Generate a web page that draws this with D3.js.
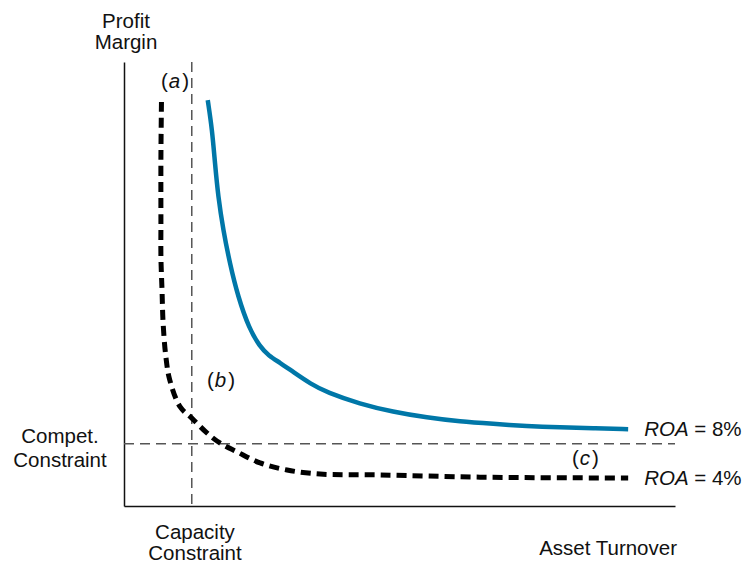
<!DOCTYPE html>
<html>
<head>
<meta charset="utf-8">
<script src="https://cdn.jsdelivr.net/npm/d3@7"></script>
<style>
  body { margin: 0; background: #fff; }
  text { font-family: "Liberation Sans", Arial, sans-serif; font-size: 20.5px; fill: #111; }
</style>
</head>
<body>
<svg id="chart" width="746" height="563"></svg>
<script>
// ROA iso-curves, values (axis units 0..100)
const roa8 = [
  [15.2, 91.4], [16.0, 84.7], [16.5, 77.3], [17.1, 69.6], [18.0, 62.2],
  [19.2, 54.7], [20.7, 47.1], [22.7, 40.0], [24.6, 36.0], [26.3, 33.8],
  [28.3, 32.3], [30.7, 30.2], [33.9, 27.5], [36.8, 25.6], [42.8, 23.0],
  [48.8, 21.2], [55.0, 19.9], [61.0, 19.0], [67.0, 18.5], [73.1, 18.0],
  [79.1, 17.7], [85.1, 17.5], [91.5, 17.3]
];
const roa4 = [
  [6.8, 91.0], [6.7, 78.6], [6.7, 63.7], [6.7, 56.1], [6.9, 48.6],
  [7.1, 41.2], [7.6, 33.6], [8.3, 28.4], [10.2, 22.3], [12.3, 19.8],
  [15.1, 16.4], [17.4, 14.2], [20.5, 12.2], [24.7, 9.7], [29.6, 8.1],
  [35.6, 7.2], [46.5, 7.0], [64.6, 6.5], [91.5, 6.3]
];
const capacityConstraint = 12.3;   // asset turnover limit
const competConstraint = 14.0;     // profit margin limit
const curveLabels = ["8%", "4%"];
const pointLabels = ["a", "b", "c"];

var svg = d3.select("#chart");

var x = d3.scaleLinear().domain([0, 100]).range([124, 675]);
var y = d3.scaleLinear().domain([0, 100]).range([506, 62]);

// axes, no ticks
svg.append("g")
  .attr("transform", "translate(0," + y(0) + ")")
  .call(d3.axisBottom(x).ticks(0).tickSizeOuter(0))
  .select(".domain").attr("stroke", "#111").attr("stroke-width", 1.5);
svg.append("g")
  .attr("transform", "translate(" + x(0) + ",0)")
  .call(d3.axisLeft(y).ticks(0).tickSizeOuter(0))
  .select(".domain").attr("stroke", "#111").attr("stroke-width", 1.5);

// constraints
svg.append("line")
  .attr("x1", x(capacityConstraint)).attr("x2", x(capacityConstraint))
  .attr("y1", y(100)).attr("y2", y(0))
  .attr("stroke", "#555").attr("stroke-width", 1.5)
  .attr("stroke-dasharray", "10,6");
svg.append("line")
  .attr("x1", x(0)).attr("x2", x(100))
  .attr("y1", y(competConstraint)).attr("y2", y(competConstraint))
  .attr("stroke", "#555").attr("stroke-width", 1.5)
  .attr("stroke-dasharray", "10,6");

var line = d3.line()
  .x(function(d) { return x(d[0]); })
  .y(function(d) { return y(d[1]); });

svg.append("path")
  .datum(roa8)
  .attr("d", line.curve(d3.curveBasis))
  .attr("fill", "none")
  .attr("stroke", "#0077a8")
  .attr("stroke-width", 4.5);

svg.append("path")
  .datum(roa4)
  .attr("d", line.curve(d3.curveCatmullRom.alpha(0.5)))
  .attr("fill", "none")
  .attr("stroke", "#000")
  .attr("stroke-width", 5)
  .attr("stroke-dasharray", "10,6");

// ROA labels
[roa8, roa4].forEach(function(s, i) {
  var last = s[s.length - 1];
  var t = svg.append("text")
    .attr("x", x(last[0]) + 16)
    .attr("y", y(last[1]) + 7);
  t.append("tspan").attr("font-style", "italic").text("ROA");
  t.append("tspan").text(" = " + curveLabels[i]);
});

// point labels (a) (b) (c)
var pts = [[161, 88], [207, 387], [572, 465]];
pointLabels.forEach(function(p, i) {
  var t = svg.append("text").attr("x", pts[i][0]).attr("y", pts[i][1]);
  t.append("tspan").text("(");
  t.append("tspan").attr("font-style", "italic").attr("dx", 1).text(p);
  t.append("tspan").attr("dx", 2).text(")");
});

// axis titles
function multi(lines, cx, by, gap, anchor) {
  var t = svg.append("text").attr("text-anchor", anchor || "middle");
  lines.forEach(function(l, i) {
    t.append("tspan").attr("x", cx).attr("y", by + i * gap).text(l);
  });
}
multi(["Profit", "Margin"], 126, 28, 21);
multi(["Compet.", "Constraint"], 60, 443, 23.5);
multi(["Capacity", "Constraint"], 195, 539, 21);
multi(["Asset Turnover"], 677, 555, 0, "end");
</script>
</body>
</html>
